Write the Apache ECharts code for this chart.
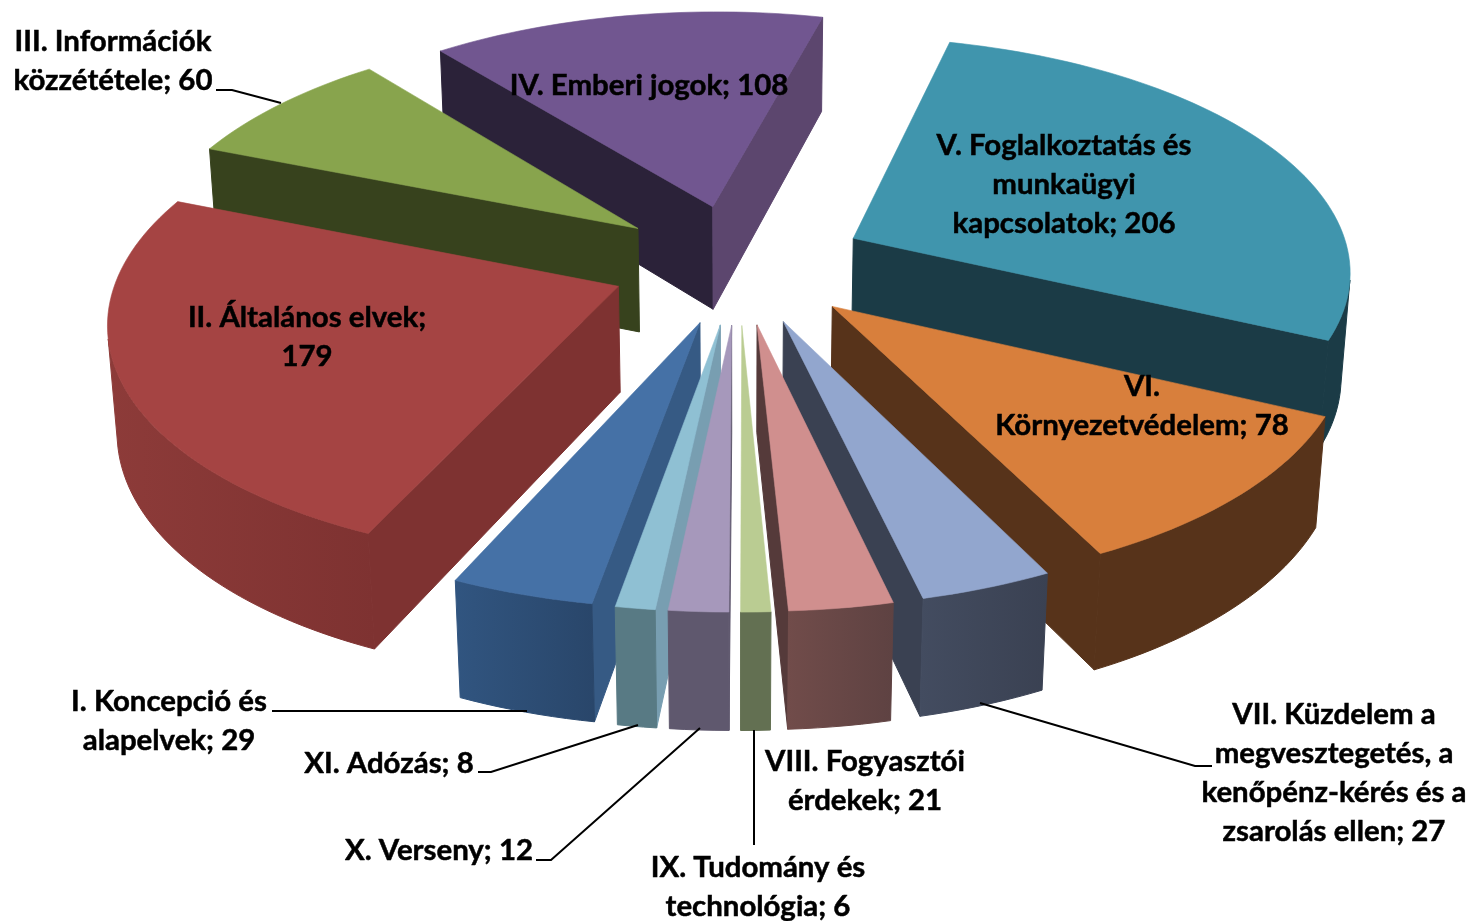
<!DOCTYPE html>
<html>
<head>
<meta charset="utf-8">
<title>Témakörök</title>
<style>
  html, body { margin: 0; padding: 0; background: #fff; }
  #main { width: 1470px; height: 921px; }
</style>
<script src="https://cdn.jsdelivr.net/npm/echarts@6/dist/echarts.min.js"></script>
</head>
<body>
<div id="main"></div>
<script>
// adatok
const categories = ['I. Koncepció és alapelvek', 'II. Általános elvek', 'III. Információk közzététele',
  'IV. Emberi jogok', 'V. Foglalkoztatás és munkaügyi kapcsolatok', 'VI. Környezetvédelem',
  'VII. Küzdelem a megvesztegetés, a kenőpénz-kérés és a zsarolás ellen', 'VIII. Fogyasztói érdekek',
  'IX. Tudomány és technológia', 'X. Verseny', 'XI. Adózás'];
const values = [29, 179, 60, 108, 206, 78, 27, 21, 6, 12, 8];

// felirat sortörések, ahogy az eredetiben vannak
const labelLines = [
  ['I. Koncepció és', 'alapelvek; 29'],
  ['II. Általános elvek;', '179'],
  ['III. Információk', 'közzététele; 60'],
  ['IV. Emberi jogok; 108'],
  ['V. Foglalkoztatás és', 'munkaügyi', 'kapcsolatok; 206'],
  ['VI.', 'Környezetvédelem; 78'],
  ['VII. Küzdelem a', 'megvesztegetés, a', 'kenőpénz-kérés és a', 'zsarolás ellen; 27'],
  ['VIII. Fogyasztói', 'érdekek; 21'],
  ['IX. Tudomány és', 'technológia; 6'],
  ['X. Verseny; 12'],
  ['XI. Adózás; 8']
];

// színek
const topColors = ['#4571a6', '#a54443', '#88a44d', '#715690', '#4095ad', '#d87f3c', '#92a6ce', '#d08f8e', '#bacc92', '#a698bb', '#8fc0d3'];
const startWall = ['#365a84', '#7e3231', '#37421d', '#2b2239', '#1b3b46', '#57331a', '#3a4152', '#553a3a', '#637052', '#5f586e', '#789eb1'];
const endWall = ['#365a84', '#7e3231', '#37421d', '#5c466e', '#1b3b46', '#57331a', '#3a4152', '#553a3a', '#637052', '#5f586e', '#789eb1'];
const outerRight = ['#29466a', '#7e3231', '#37421d', '#5c466e', '#1b3b46', '#57331a', '#3a4152', '#5e4242', '#637052', '#5f586e', '#587a84'];
const outerLeft = ['#315580', '#8d3b39', '#37421d', '#5c466e', '#1b3b46', '#57331a', '#434c60', '#714c4a', '#637052', '#5f586e', '#587a84'];

// felirat helyek (középpont) és vezetővonalak
const labelPos = [[169, 721], [307, 337], [113, 61], [649, 86], [1064, 185], [1142, 406], [1334, 773], [865, 781], [758, 887], [439, 851], [389, 764]];
const leaders = [
  [[272, 711], [527, 711]],
  null,
  [[216, 90], [232, 90], [281, 103]],
  null, null, null,
  [[1212, 766], [1195, 766], [980, 703]],
  null,
  [[754, 845], [754, 730]],
  [[536, 860], [551, 860], [700, 728]],
  [[478, 772], [491, 772], [638, 725]]
];

// a torta vetítése
const CX = 738.8, CY = 263.5, SX = 498, SY = 233, SHEAR = 1.5, DEPTH = 106.5;
const PERSP = 0.127, PERSP_Z = 0.015, EXPLODE = 0.2574;
const FIRST_ANGLE = 189.8;
const rad = d => d * Math.PI / 180;

function project(u, v, z) {
  const w = 1 + PERSP * v + PERSP_Z * z;
  return [CX + (SX * u + SHEAR * v) / w, CY + (-SY * v + DEPTH * z) / w];
}

const total = values.reduce((a, b) => a + b, 0);
let acc = FIRST_ANGLE;
const slices = values.map((val, i) => {
  const start = acc;
  const end = acc + val / total * 360;
  acc = end;
  return { index: i, start, end, mid: (start + end) / 2 };
});
// hátulról előre rajzolunk
const drawOrder = slices.slice().sort((a, b) => Math.cos(rad(b.mid)) - Math.cos(rad(a.mid)));

function signedArea(pts) {
  let s = 0;
  pts.forEach((p, i) => {
    const q = pts[(i + 1) % pts.length];
    s += p[0] * q[1] - q[0] * p[1];
  });
  return s;
}

function poly(points, color, width) {
  return {
    type: 'polygon',
    shape: { points },
    style: { fill: color, stroke: color, lineWidth: width }
  };
}

function renderSlice(params, api) {
  const s = drawOrder[params.dataIndex];
  const i = s.index;
  const ox = EXPLODE * Math.sin(rad(s.mid));
  const oy = EXPLODE * Math.cos(rad(s.mid));
  const at = (r, deg, z) => project(ox + r * Math.sin(rad(deg)), oy + r * Math.cos(rad(deg)), z);

  const steps = Math.max(2, Math.ceil((s.end - s.start) / 1.5));
  const angle = k => s.start + (s.end - s.start) * k / steps;

  const children = [];
  const addWall = (a, b, color) => {
    const quad = [a(0), b(0), b(1), a(1)];
    if (signedArea(quad) < 0) children.push(poly(quad, color, 1));
  };
  // sugárirányú falak
  addWall(z => at(0, 0, z), z => at(1, s.start, z), startWall[i]);
  addWall(z => at(1, s.end, z), z => at(0, 0, z), endWall[i]);
  // külső ív: a látható szakaszok egyben, vízszintes átmenettel
  const upper = [], lower = [];
  for (let k = 0; k < steps; k++) {
    const a0 = angle(k), a1 = angle(k + 1);
    const quad = [at(1, a0, 0), at(1, a1, 0), at(1, a1, 1), at(1, a0, 1)];
    if (signedArea(quad) < 0) {
      if (!upper.length) { upper.push(quad[0]); lower.push(quad[3]); }
      upper.push(quad[1]);
      lower.push(quad[2]);
    }
  }
  if (upper.length) {
    const grad = new echarts.graphic.LinearGradient(1, 0, 0, 0, [
      { offset: 0, color: outerRight[i] },
      { offset: 1, color: outerLeft[i] }
    ]);
    children.push(poly(upper.concat(lower.reverse()), grad, 1));
  }
  // teteje
  const top = [at(0, 0, 0)];
  for (let k = 0; k <= steps; k++) top.push(at(1, angle(k), 0));
  children.push(poly(top, topColors[i], 0.6));

  return { type: 'group', children };
}

function renderLabel(params, api) {
  const i = params.dataIndex;
  const children = [];
  if (leaders[i]) {
    children.push({
      type: 'polyline',
      shape: { points: leaders[i] },
      style: { stroke: '#000', lineWidth: 2, fill: null }
    });
  }
  children.push({
    type: 'text',
    style: {
      text: labelLines[i].join('\n'),
      x: labelPos[i][0],
      y: labelPos[i][1],
      align: 'center',
      verticalAlign: 'middle',
      fill: '#000',
      stroke: '#000',
      lineWidth: 0.5,
      font: 'bold 29.4px Lato',
      lineHeight: 39
    }
  });
  return { type: 'group', children };
}

const chart = echarts.init(document.getElementById('main'), null, { renderer: 'canvas' });
chart.setOption({
  backgroundColor: '#fff',
  animation: false,
  tooltip: { show: false },
  series: [
    {
      type: 'custom',
      name: 'szeletek',
      coordinateSystem: 'none',
      silent: true,
      z: 2,
      renderItem: renderSlice,
      data: drawOrder.map(s => ({ name: categories[s.index], value: [s.index, values[s.index]] }))
    },
    {
      type: 'custom',
      name: 'feliratok',
      coordinateSystem: 'none',
      silent: true,
      z: 3,
      renderItem: renderLabel,
      data: categories.map((name, i) => ({ name, value: [i, values[i]] }))
    }
  ]
});
</script>
</body>
</html>
